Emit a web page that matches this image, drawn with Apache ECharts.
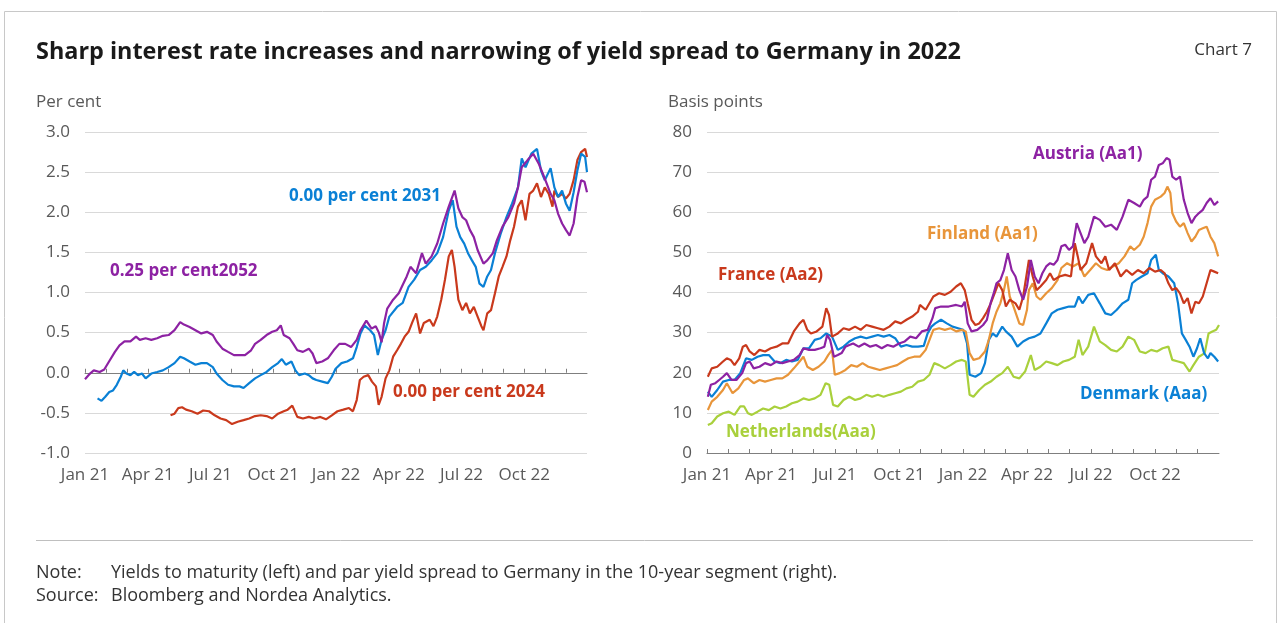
<!DOCTYPE html>
<html lang="en">
<head>
    <meta charset="UTF-8">
    <title>Chart 7</title>
    <style>
        html, body { margin: 0; padding: 0; background: #fff; }
    </style>
</head>
<body>
<div id="main" style="width: 1281px;height:623px;"></div>
<script src="https://cdn.jsdelivr.net/npm/echarts@6/dist/echarts.min.js"></script>
<script>
    // x = months since Jan 2021, y = value
    var monthLabels = ['Jan 21', 'Apr 21', 'Jul 21', 'Oct 21', 'Jan 22', 'Apr 22', 'Jul 22', 'Oct 22'];

    // left panel: yields to maturity, per cent
    var bond2031 = [[0.6,-0.32],[0.79,-0.35],[0.97,-0.3],[1.16,-0.24],[1.34,-0.22],[1.52,-0.15],[1.71,-0.05],[1.83,0.03],[1.98,-0.01],[2.17,-0.03],[2.35,0.01],[2.53,-0.03],[2.72,-0.01],[2.9,-0.07],[3.17,-0.01],[3.45,0.01],[3.72,0.03],[4.0,0.07],[4.28,0.12],[4.55,0.2],[4.73,0.18],[5.0,0.14],[5.28,0.1],[5.56,0.12],[5.83,0.12],[6.11,0.07],[6.29,-0.01],[6.57,-0.09],[6.84,-0.15],[7.12,-0.17],[7.39,-0.17],[7.58,-0.19],[7.85,-0.13],[8.13,-0.07],[8.4,-0.03],[8.68,0.01],[8.95,0.07],[9.23,0.12],[9.41,0.17],[9.6,0.1],[9.87,0.14],[10.06,0.03],[10.24,-0.03],[10.51,-0.01],[10.7,-0.03],[10.88,-0.07],[11.06,-0.09],[11.34,-0.11],[11.61,-0.13],[11.8,-0.05],[11.98,0.05],[12.26,0.12],[12.53,0.14],[12.81,0.18],[12.99,0.32],[13.17,0.49],[13.36,0.59],[13.63,0.53],[13.82,0.47],[14.0,0.22],[14.18,0.41],[14.37,0.53],[14.55,0.7],[14.92,0.82],[15.19,0.87],[15.47,1.07],[15.74,1.16],[16.02,1.28],[16.29,1.32],[16.57,1.4],[16.84,1.49],[17.12,1.69],[17.39,2.02],[17.58,2.15],[17.76,1.82],[17.94,1.69],[18.13,1.61],[18.31,1.49],[18.5,1.4],[18.68,1.32],[18.86,1.11],[19.05,1.07],[19.23,1.2],[19.41,1.28],[19.6,1.49],[19.87,1.73],[20.15,1.94],[20.42,2.11],[20.7,2.31],[20.88,2.67],[21.06,2.56],[21.34,2.73],[21.61,2.79],[21.8,2.52],[21.98,2.4],[22.26,2.55],[22.44,2.31],[22.62,2.19],[22.81,2.27],[22.99,2.11],[23.17,2.02],[23.36,2.25],[23.54,2.52],[23.72,2.73],[23.91,2.69],[24,2.5]];
    var bond2052 = [[0,-0.08],[0.24,-0.01],[0.42,0.03],[0.7,0.01],[0.92,0.04],[1.15,0.14],[1.43,0.26],[1.65,0.34],[1.89,0.39],[2.17,0.39],[2.44,0.45],[2.62,0.41],[2.9,0.43],[3.17,0.41],[3.45,0.43],[3.72,0.46],[4.0,0.47],[4.28,0.53],[4.55,0.63],[4.73,0.6],[5.0,0.57],[5.28,0.53],[5.56,0.49],[5.83,0.51],[6.11,0.47],[6.29,0.39],[6.57,0.3],[6.84,0.26],[7.12,0.22],[7.39,0.22],[7.65,0.22],[7.94,0.28],[8.13,0.36],[8.4,0.41],[8.68,0.47],[8.95,0.51],[9.17,0.53],[9.36,0.59],[9.5,0.47],[9.78,0.43],[9.96,0.36],[10.15,0.28],[10.42,0.26],[10.7,0.3],[10.88,0.24],[11.06,0.12],[11.34,0.14],[11.61,0.18],[11.89,0.28],[12.16,0.36],[12.44,0.36],[12.72,0.32],[12.99,0.41],[13.17,0.53],[13.45,0.65],[13.7,0.55],[13.9,0.58],[14.05,0.5],[14.18,0.38],[14.3,0.62],[14.45,0.8],[14.73,0.91],[15.0,0.99],[15.38,1.2],[15.56,1.32],[15.83,1.24],[16.11,1.49],[16.29,1.36],[16.57,1.45],[16.84,1.61],[17.12,1.86],[17.39,2.07],[17.67,2.27],[17.85,2.05],[18.04,1.94],[18.22,1.9],[18.4,1.78],[18.59,1.69],[18.77,1.53],[19.05,1.36],[19.23,1.4],[19.5,1.49],[19.69,1.65],[19.96,1.82],[20.24,1.94],[20.51,2.11],[20.7,2.31],[20.88,2.56],[21.16,2.65],[21.43,2.73],[21.7,2.6],[21.89,2.48],[22.07,2.36],[22.26,2.23],[22.44,2.15],[22.62,1.98],[22.81,1.86],[22.99,1.78],[23.17,1.71],[23.36,1.86],[23.54,2.19],[23.72,2.4],[23.88,2.38],[24,2.25]];
    var bond2024 = [[4.09,-0.53],[4.28,-0.51],[4.46,-0.44],[4.64,-0.43],[4.83,-0.46],[5.1,-0.48],[5.38,-0.51],[5.65,-0.47],[5.93,-0.48],[6.2,-0.53],[6.48,-0.57],[6.75,-0.59],[7.03,-0.64],[7.3,-0.61],[7.58,-0.59],[7.85,-0.57],[8.13,-0.54],[8.4,-0.53],[8.68,-0.54],[8.95,-0.57],[9.23,-0.51],[9.5,-0.48],[9.69,-0.46],[9.91,-0.41],[10.15,-0.55],[10.42,-0.57],[10.7,-0.55],[10.97,-0.57],[11.25,-0.55],[11.52,-0.58],[11.8,-0.53],[12.07,-0.48],[12.35,-0.46],[12.62,-0.44],[12.81,-0.48],[12.99,-0.34],[13.14,-0.09],[13.32,-0.05],[13.54,-0.03],[13.72,-0.11],[13.91,-0.17],[14.04,-0.4],[14.18,-0.3],[14.37,-0.07],[14.55,0.03],[14.73,0.2],[14.92,0.28],[15.1,0.36],[15.28,0.45],[15.47,0.51],[15.65,0.63],[15.83,0.74],[16.02,0.49],[16.2,0.62],[16.48,0.66],[16.66,0.58],[16.84,0.7],[17.03,0.91],[17.21,1.16],[17.39,1.45],[17.54,1.53],[17.67,1.32],[17.85,0.91],[18.04,0.78],[18.22,0.87],[18.4,0.74],[18.59,0.82],[18.77,0.7],[18.95,0.58],[19.05,0.53],[19.23,0.74],[19.41,0.78],[19.6,0.99],[19.78,1.2],[19.96,1.32],[20.15,1.45],[20.33,1.65],[20.51,1.82],[20.7,2.07],[20.88,2.15],[21.06,1.9],[21.25,2.23],[21.43,2.27],[21.61,2.36],[21.8,2.19],[21.98,2.31],[22.17,2.23],[22.35,2.07],[22.44,2.27],[22.62,2.19],[22.81,2.23],[22.99,2.17],[23.17,2.23],[23.36,2.4],[23.54,2.65],[23.72,2.75],[23.91,2.79],[24,2.69]];

    // right panel: spread to Germany, basis points
    var austria = [[0.04,14.0],[0.18,17.0],[0.39,17.4],[0.57,18.2],[0.75,19.0],[0.93,19.9],[1.15,18.2],[1.38,18.2],[1.65,19.9],[1.83,22.4],[2.0,22.8],[2.19,21.1],[2.46,21.5],[2.72,22.4],[2.99,21.9],[3.26,22.8],[3.53,22.4],[3.8,22.8],[4.07,23.2],[4.34,24.4],[4.52,26.1],[4.78,25.7],[5.05,25.7],[5.32,26.1],[5.5,26.5],[5.63,29.4],[5.77,28.2],[5.95,24.0],[6.13,24.4],[6.31,24.9],[6.49,26.5],[6.67,26.9],[6.85,27.3],[7.11,26.5],[7.38,27.3],[7.65,26.5],[7.92,26.9],[8.19,26.1],[8.46,26.9],[8.73,26.5],[9.0,27.3],[9.27,27.8],[9.53,29.0],[9.8,28.6],[10.07,30.3],[10.34,30.7],[10.57,33.6],[10.7,36.1],[10.97,36.5],[11.33,36.5],[11.68,36.9],[11.95,36.5],[12.08,37.7],[12.22,32.3],[12.4,30.3],[12.67,30.7],[12.94,31.9],[13.12,33.2],[13.3,37.5],[13.45,40.0],[13.57,42.3],[13.75,43.1],[13.92,45.6],[14.1,49.8],[14.28,45.6],[14.46,44.0],[14.64,40.6],[14.82,38.2],[15.0,41.5],[15.18,48.1],[15.36,44.0],[15.54,42.3],[15.72,44.8],[15.9,46.5],[16.08,47.3],[16.25,46.9],[16.43,48.1],[16.61,51.5],[16.79,51.9],[16.97,50.6],[17.15,51.5],[17.33,57.3],[17.51,54.8],[17.69,52.3],[17.87,53.9],[18.14,58.9],[18.41,58.1],[18.67,56.4],[18.94,56.9],[19.21,55.6],[19.48,58.9],[19.75,63.1],[20.02,62.3],[20.29,61.4],[20.47,63.1],[20.65,63.9],[20.82,68.1],[21.0,68.9],[21.18,71.8],[21.36,72.2],[21.54,73.5],[21.68,73.1],[21.81,68.9],[21.99,68.1],[22.17,68.9],[22.35,63.1],[22.53,59.8],[22.71,57.3],[22.89,58.9],[23.06,59.8],[23.24,60.6],[23.42,62.3],[23.6,63.5],[23.78,61.8],[23.96,62.7]];
    var finland = [[0.04,10.7],[0.22,12.8],[0.48,14.0],[0.75,15.7],[0.93,17.4],[1.2,14.9],[1.47,16.1],[1.74,18.2],[1.92,18.6],[2.19,17.4],[2.46,18.2],[2.72,17.8],[2.99,18.2],[3.26,18.6],[3.53,18.6],[3.8,19.5],[4.07,21.1],[4.34,22.8],[4.52,24.0],[4.7,21.5],[4.96,20.7],[5.23,21.5],[5.5,22.8],[5.68,24.4],[5.86,25.7],[5.99,19.5],[6.22,19.9],[6.49,20.7],[6.76,21.9],[7.03,21.5],[7.29,22.4],[7.56,21.5],[7.83,21.1],[8.1,20.7],[8.37,21.1],[8.64,21.5],[8.91,21.9],[9.18,22.8],[9.44,23.6],[9.71,24.0],[9.98,24.0],[10.25,25.7],[10.43,28.2],[10.61,30.7],[10.88,31.1],[11.15,30.7],[11.42,31.1],[11.68,30.3],[11.95,30.7],[12.13,30.3],[12.31,24.9],[12.49,23.2],[12.76,23.6],[13.03,25.3],[13.21,28.2],[13.39,32.3],[13.57,35.2],[13.75,37.3],[13.92,40.6],[14.05,44.0],[14.19,39.0],[14.37,36.5],[14.64,32.3],[14.82,31.9],[15.0,35.7],[15.09,40.6],[15.27,42.3],[15.45,39.0],[15.63,38.2],[15.9,39.8],[16.16,41.1],[16.43,43.1],[16.61,46.1],[16.88,47.3],[17.15,46.5],[17.42,47.3],[17.69,44.0],[17.96,45.6],[18.23,47.3],[18.49,46.1],[18.76,45.6],[19.03,46.5],[19.3,47.3],[19.57,49.0],[19.84,51.5],[20.02,50.6],[20.29,51.9],[20.47,53.9],[20.65,57.3],[20.82,61.4],[21.0,63.1],[21.27,63.9],[21.45,64.8],[21.58,66.4],[21.72,64.8],[21.81,59.8],[21.99,57.7],[22.17,56.4],[22.35,57.3],[22.53,54.8],[22.71,52.7],[22.89,53.9],[23.06,55.6],[23.24,56.0],[23.42,56.4],[23.6,53.9],[23.78,52.3],[23.96,49.0]];
    var france = [[0.04,19.0],[0.22,21.1],[0.48,21.5],[0.75,22.8],[0.93,23.6],[1.11,23.2],[1.29,21.9],[1.51,23.6],[1.68,26.5],[1.83,26.9],[2.0,25.3],[2.22,24.4],[2.46,25.7],[2.72,25.3],[2.99,26.1],[3.26,26.5],[3.53,27.3],[3.8,27.3],[4.07,30.3],[4.34,32.3],[4.52,33.2],[4.7,30.7],[4.87,29.8],[5.14,30.3],[5.41,31.5],[5.59,36.1],[5.72,34.4],[5.86,29.0],[6.13,29.8],[6.4,31.1],[6.67,30.7],[6.94,31.5],[7.2,30.7],[7.47,31.9],[7.74,31.5],[8.01,31.1],[8.28,30.7],[8.55,31.5],[8.82,32.8],[9.09,32.3],[9.35,33.2],[9.62,34.0],[9.89,35.2],[9.98,36.9],[10.25,35.7],[10.61,39.0],[10.88,39.8],[11.15,39.4],[11.42,40.2],[11.68,41.5],[11.9,42.3],[12.08,40.6],[12.22,37.3],[12.4,33.2],[12.58,31.9],[12.76,32.3],[12.94,33.6],[13.12,35.2],[13.3,37.3],[13.48,39.8],[13.66,42.3],[13.84,40.6],[14.01,36.5],[14.19,38.2],[14.46,37.3],[14.64,35.7],[14.82,39.0],[15.09,48.1],[15.27,44.0],[15.45,40.6],[15.63,41.5],[15.9,43.1],[16.08,44.8],[16.25,43.1],[16.52,44.0],[16.79,44.4],[17.06,44.0],[17.24,52.3],[17.38,49.0],[17.51,45.6],[17.78,47.3],[18.05,52.3],[18.23,49.0],[18.49,47.3],[18.67,49.0],[18.85,45.6],[19.12,47.3],[19.39,44.0],[19.66,45.6],[19.93,44.4],[20.2,45.6],[20.47,44.8],[20.73,46.1],[21.0,45.2],[21.27,45.6],[21.45,44.8],[21.63,42.3],[21.81,40.6],[21.99,41.1],[22.17,39.8],[22.35,37.3],[22.53,38.6],[22.71,34.8],[22.89,37.7],[23.06,37.3],[23.24,39.0],[23.42,42.3],[23.6,45.6],[23.78,45.2],[23.96,44.8]];
    var denmark = [[0.04,15.3],[0.22,14.0],[0.48,15.7],[0.75,17.8],[1.02,18.2],[1.29,18.2],[1.56,19.9],[1.83,23.6],[2.1,23.2],[2.37,24.0],[2.63,24.4],[2.9,24.4],[3.17,22.8],[3.44,22.4],[3.71,23.2],[3.98,22.8],[4.25,23.2],[4.52,26.1],[4.78,26.1],[5.05,28.2],[5.32,28.6],[5.59,29.8],[5.86,29.0],[6.13,25.7],[6.4,26.5],[6.67,27.8],[6.94,28.6],[7.2,29.0],[7.47,28.6],[7.74,29.0],[8.01,29.4],[8.28,29.0],[8.55,29.4],[8.82,28.6],[9.09,26.5],[9.35,26.9],[9.62,26.5],[9.89,26.5],[10.16,26.7],[10.34,29.8],[10.52,31.5],[10.7,32.3],[10.97,33.2],[11.24,32.3],[11.51,31.5],[11.77,31.1],[12.01,30.7],[12.19,27.3],[12.31,19.5],[12.58,19.0],[12.85,19.9],[13.03,22.4],[13.21,28.2],[13.39,29.8],[13.57,29.0],[13.84,31.5],[14.01,30.3],[14.28,29.0],[14.55,26.5],[14.82,27.8],[15.09,28.6],[15.36,29.0],[15.63,29.8],[15.9,32.3],[16.16,34.8],[16.43,35.7],[16.7,36.1],[16.97,36.5],[17.24,36.5],[17.42,39.0],[17.6,37.3],[17.87,39.4],[18.14,39.8],[18.41,37.3],[18.67,34.8],[18.94,34.4],[19.21,35.7],[19.48,37.3],[19.75,38.2],[19.93,42.3],[20.11,43.1],[20.38,44.0],[20.65,44.8],[20.82,48.1],[21.04,49.4],[21.18,45.6],[21.36,44.8],[21.63,44.0],[21.9,42.3],[22.08,37.3],[22.26,29.8],[22.44,28.2],[22.62,26.5],[22.8,24.0],[22.97,26.1],[23.12,28.6],[23.3,24.9],[23.48,23.6],[23.6,24.9],[23.78,24.0],[23.96,22.8]];
    var netherlands = [[0.04,7.0],[0.22,7.4],[0.48,9.1],[0.75,9.9],[1.02,10.3],[1.29,9.5],[1.56,11.6],[1.74,11.6],[1.92,9.9],[2.1,9.5],[2.37,10.3],[2.63,11.1],[2.9,10.7],[3.17,11.6],[3.44,11.1],[3.71,11.6],[3.98,12.4],[4.25,12.8],[4.52,13.6],[4.78,13.2],[5.05,13.6],[5.32,14.5],[5.56,17.4],[5.73,17.0],[5.91,12.0],[6.13,11.6],[6.4,13.2],[6.67,14.0],[6.94,13.2],[7.2,13.6],[7.47,14.5],[7.74,14.0],[8.01,14.5],[8.28,14.0],[8.55,14.5],[8.82,14.9],[9.09,15.3],[9.35,16.1],[9.62,16.5],[9.89,17.8],[10.16,18.2],[10.43,19.5],[10.65,22.4],[10.88,21.9],[11.15,21.1],[11.42,21.9],[11.68,22.8],[11.95,23.2],[12.13,22.8],[12.31,14.5],[12.49,14.0],[12.76,15.7],[13.03,17.0],[13.3,17.8],[13.57,19.0],[13.84,19.9],[14.1,21.5],[14.37,19.0],[14.64,18.6],[14.91,20.3],[15.18,24.4],[15.36,20.7],[15.63,21.5],[15.9,22.8],[16.16,22.4],[16.43,21.9],[16.7,22.8],[16.97,23.2],[17.24,24.0],[17.42,28.2],[17.6,24.4],[17.87,26.5],[18.14,31.5],[18.41,27.8],[18.67,26.9],[18.94,25.7],[19.21,25.3],[19.48,26.5],[19.75,29.0],[20.02,28.2],[20.29,25.3],[20.56,24.9],[20.82,25.7],[21.09,25.3],[21.36,26.1],[21.63,26.5],[21.81,23.2],[22.08,22.8],[22.35,22.4],[22.62,20.3],[22.8,21.9],[23.06,24.0],[23.33,24.9],[23.51,29.8],[23.69,30.3],[23.87,30.7],[24.0,31.9]];

    var BLUE = '#0a80d5', PURPLE = '#8d22a3', RED = '#c9391c', ORANGE = '#e8953a', GREEN = '#a9d03c';
    var FONT = '"Open Sans", "Noto Sans", sans-serif';

    var myChart = echarts.init(document.getElementById('main'));

    function xAxisFor(gridIndex) {
        return {
            type: 'value', gridIndex: gridIndex, min: 0, max: 24, interval: 1,
            axisLine: { lineStyle: { color: '#7f7f7f', width: 1 } },
            axisTick: { inside: true, length: 4, lineStyle: { color: '#7f7f7f' } },
            splitLine: { show: false },
            axisLabel: {
                color: '#595959', fontSize: 17, fontFamily: FONT, margin: 14, showMaxLabel: false,
                formatter: function (v) {
                    return (v % 3 === 0 && v < 24) ? monthLabels[v / 3] : '';
                }
            }
        };
    }

    function line(data, color, xi, yi) {
        return {
            type: 'line', data: data, xAxisIndex: xi, yAxisIndex: yi,
            symbol: 'none', smooth: false,
            lineStyle: { color: color, width: 2.2 }, itemStyle: { color: color }
        };
    }

    // series name labels written on the panels
    function label(text, x, y, color) {
        return {
            type: 'text', x: x, y: y, z: 100,
            style: { text: text, fill: color, font: 'bold 17px ' + FONT, verticalAlign: 'middle' }
        };
    }

    function note(text, x, y) {
        return { type: 'text', x: x, y: y, style: { text: text, fill: '#333333', font: '18px ' + FONT, verticalAlign: 'middle' } };
    }

    var gridColors = ['#d9d9d9', '#d9d9d9', '#8c8c8c', '#d9d9d9', '#d9d9d9', '#d9d9d9', '#d9d9d9', '#d9d9d9', '#d9d9d9'];

    myChart.setOption({
        animation: false,
        grid: [
            { left: 85, right: 694, top: 132, bottom: 170 },
            { left: 707, right: 62, top: 132, bottom: 170 }
        ],
        xAxis: [xAxisFor(0), xAxisFor(1)],
        yAxis: [
            {
                type: 'value', gridIndex: 0, min: -1, max: 3, interval: 0.5,
                axisLine: { show: false }, axisTick: { show: false },
                splitLine: { lineStyle: { color: gridColors, width: 1 } },
                axisLabel: {
                    color: '#595959', fontSize: 17, fontFamily: FONT, margin: 15,
                    formatter: function (v) { return v.toFixed(1); }
                }
            },
            {
                type: 'value', gridIndex: 1, min: 0, max: 80, interval: 10,
                axisLine: { show: false }, axisTick: { show: false },
                splitLine: { lineStyle: { color: '#d9d9d9', width: 1 } },
                axisLabel: { color: '#595959', fontSize: 17, fontFamily: FONT, margin: 15 }
            }
        ],
        series: [
            line(bond2024, RED, 0, 0),
            line(bond2031, BLUE, 0, 0),
            line(bond2052, PURPLE, 0, 0),
            line(netherlands, GREEN, 1, 1),
            line(denmark, BLUE, 1, 1),
            line(finland, ORANGE, 1, 1),
            line(france, RED, 1, 1),
            line(austria, PURPLE, 1, 1)
        ],
        graphic: [
            { type: 'rect', shape: { x: 4.5, y: 11.5, width: 1272, height: 640 }, style: { fill: 'none', stroke: '#c8c8c8', lineWidth: 1 } },
            { type: 'text', x: 36, y: 52, style: { text: 'Sharp interest rate increases and narrowing of yield spread to Germany in 2022', fill: '#1a1a1a', font: 'bold 23.4px ' + FONT, verticalAlign: 'middle' } },
            { type: 'text', x: 1252, y: 50, style: { text: 'Chart 7', fill: '#333333', font: '17px ' + FONT, align: 'right', verticalAlign: 'middle' } },
            { type: 'text', x: 36, y: 102, style: { text: 'Per cent', fill: '#595959', font: '17px ' + FONT, verticalAlign: 'middle' } },
            { type: 'text', x: 668, y: 102, style: { text: 'Basis points', fill: '#595959', font: '17px ' + FONT, verticalAlign: 'middle' } },
            label('0.00 per cent 2031', 289, 196, BLUE),
            label('0.25 per cent2052', 110, 271, PURPLE),
            label('0.00 per cent 2024', 393, 392, RED),
            label('Austria (Aa1)', 1033, 154, PURPLE),
            label('Finland (Aa1)', 927, 234, ORANGE),
            label('France (Aa2)', 718, 275, RED),
            label('Denmark (Aaa)', 1080, 394, BLUE),
            label('Netherlands(Aaa)', 726, 432, GREEN),
            { type: 'line', shape: { x1: 36, y1: 540.5, x2: 1253, y2: 540.5 }, style: { stroke: '#bfbfbf', lineWidth: 1 } },
            note('Note:', 36, 573),
            note('Yields to maturity (left) and par yield spread to Germany in the 10-year segment (right).', 111, 573),
            note('Source:', 36, 596),
            note('Bloomberg and Nordea Analytics.', 111, 596)
        ]
    });
</script>
</body>
</html>
